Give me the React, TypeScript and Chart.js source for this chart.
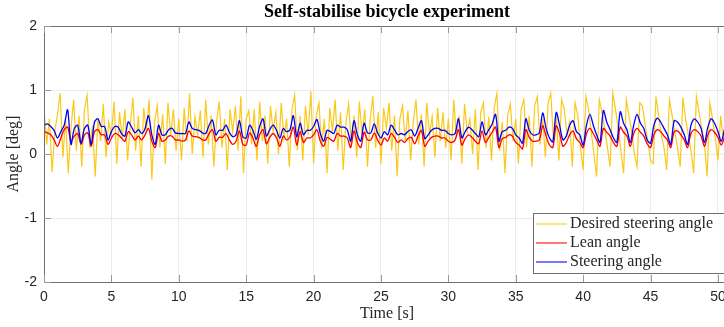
import React, { useEffect, useRef } from 'react';
import { Chart, registerables } from 'chart.js';

Chart.register(...registerables);

// ---------- data ----------
const chartTitle = 'Self-stabilise bicycle experiment';
const xAxisLabel = 'Time [s]';
const yAxisLabel = 'Angle [deg]';
const seriesLabels = ['Desired steering angle', 'Lean angle', 'Steering angle'];
const xTickValues = [0, 5, 10, 15, 20, 25, 30, 35, 40, 45, 50];
const yTickValues = [-2, -1, 0, 1, 2];

// sample period (s) of each recorded signal
const desiredDt = 0.2;
const angleDt = 0.25;

// Desired steering angle [deg], one value every 0.2 s
const desiredSteering = [
  0.72, 0.15, 0.55, -0.28, 0.35, 0.62, 0.95, -0.05, 0.55, -0.30,
  0.40, 0.85, 0.05, 0.60, -0.20, 0.70, 0.92, 0.10, 0.45, -0.35,
  0.55, 0.20, 0.78, -0.05, 0.50, 0.30, 0.82, -0.15, 0.65, 0.25,
  0.70, -0.10, 0.45, 0.88, 0.05, 0.60, -0.20, 0.72, 0.35, 0.85,
  -0.40, 0.50, 0.75, 0.10, 0.62, -0.15, 0.80, 0.30, 0.70, 0.05,
  0.55, -0.10, 0.72, 0.20, 0.95, 0.00, 0.58, 0.30, 0.68, -0.05,
  0.85, 0.15, 0.60, -0.20, 0.50, 0.82, 0.10, 0.55, -0.25, 0.70,
  0.35, 0.75, 0.05, 0.90, -0.30, 0.55, 0.68, 0.15, 0.70, -0.10,
  0.82, 0.20, 0.60, -0.15, 0.75, 0.35, 0.65, 0.00, 0.80, 0.25,
  0.55, -0.20, 0.70, 0.92, 0.05, 0.60, -0.10, 0.75, 0.30, 0.98,
  -0.15, 0.60, 0.80, 0.10, 0.55, -0.30, 0.72, 0.35, 0.85, 0.05,
  0.65, -0.25, 0.50, 0.78, 0.15, 0.60, -0.05, 0.82, 0.30, 0.70,
  -0.20, 0.55, 0.90, 0.10, 0.65, -0.15, 0.72, 0.40, 0.80, 0.05,
  0.60, -0.35, 0.55, 0.75, 0.20, 0.68, -0.10, 0.50, 0.85, 0.15,
  0.62, -0.20, 0.80, 0.30, 0.58, -0.05, 0.72, 0.20, 0.65, 0.10,
  0.55, -0.10, 0.85, 0.25, 0.60, -0.15, 0.78, 0.35, 0.55, 0.00,
  0.70, -0.25, 0.65, 0.80, 0.10, 0.58, -0.10, 0.72, 0.95, 0.05,
  0.50, -0.30, 0.60, 0.78, 0.20, 0.55, -0.15, 0.70, 0.85, 0.10,
  0.60, -0.20, 0.75, 0.90, 0.15, 0.55, -0.05, 0.80, 0.95, 0.20,
  0.60, -0.10, 0.85, 0.70, 0.30, 0.50, -0.20, 0.80, 0.60, 0.10,
  -0.25, 0.90, 0.70, 0.35, 0.00, -0.35, 0.85, 0.65, 0.40, 0.10,
  -0.20, 0.95, 0.70, 0.40, 0.05, -0.30, 0.85, 0.60, 0.35, 0.00,
  -0.20, 0.80, 0.75, 0.45, 0.20, -0.10, -0.15, 0.90, 0.60, 0.30,
  0.10, -0.25, 0.85, 0.60, 0.35, 0.10, -0.20, 0.88, 0.55, 0.30,
  0.05, -0.30, 0.90, 0.65, 0.40, 0.15, -0.35, 0.80, 0.55, 0.25,
  -0.10, 0.60, 0.20,
];

// Lean angle [deg], one value every 0.25 s
const leanAngle = [
  0.35, 0.33, 0.30, 0.22, 0.12, 0.25, 0.38, 0.42, 0.20, 0.28,
  0.32, 0.15, 0.30, 0.33, 0.12, 0.35, 0.38, 0.30, 0.30, 0.15,
  0.25, 0.32, 0.30, 0.25, 0.20, 0.35, 0.30, 0.22, 0.28, 0.22,
  0.30, 0.40, 0.20, 0.10, 0.32, 0.20, 0.22, 0.28, 0.28, 0.22,
  0.22, 0.20, 0.22, 0.36, 0.28, 0.27, 0.26, 0.22, 0.22, 0.32,
  0.38, 0.20, 0.26, 0.26, 0.32, 0.22, 0.15, 0.20, 0.36, 0.15,
  0.14, 0.33, 0.25, 0.12, 0.30, 0.38, 0.16, 0.26, 0.32, 0.25,
  0.12, 0.28, 0.22, 0.27, 0.42, 0.14, 0.35, 0.18, 0.25, 0.25,
  0.30, 0.38, 0.20, 0.12, 0.26, 0.23, 0.20, 0.32, 0.28, 0.28,
  0.25, 0.10, 0.36, 0.18, 0.10, 0.34, 0.22, 0.22, 0.33, 0.22,
  0.14, 0.25, 0.20, 0.32, 0.26, 0.18, 0.22, 0.18, 0.24, 0.26,
  0.16, 0.28, 0.37, 0.12, 0.20, 0.26, 0.28, 0.28, 0.25, 0.25,
  0.20, 0.18, 0.22, 0.38, 0.14, 0.24, 0.30, 0.26, 0.20, 0.16,
  0.36, 0.18, 0.26, 0.34, 0.42, 0.10, 0.24, 0.26, 0.30, 0.28,
  0.18, 0.14, 0.08, 0.38, 0.26, 0.20, 0.20, 0.22, 0.44, 0.28,
  0.14, 0.10, 0.44, 0.32, 0.12, 0.18, 0.30, 0.36, 0.24, 0.18,
  0.10, 0.32, 0.40, 0.32, 0.22, 0.12, 0.40, 0.34, 0.28, 0.18,
  0.12, 0.42, 0.34, 0.28, 0.12, 0.32, 0.40, 0.34, 0.28, 0.16,
  0.10, 0.30, 0.38, 0.35, 0.28, 0.22, 0.10, 0.35, 0.36, 0.30,
  0.22, 0.10, 0.32, 0.38, 0.35, 0.28, 0.12, 0.30, 0.38, 0.34,
  0.26, 0.14, 0.28,
];

// Steering angle [deg], one value every 0.25 s
const steeringAngle = [
  0.45, 0.47, 0.43, 0.37, 0.25, 0.35, 0.45, 0.69, 0.15, 0.40,
  0.45, 0.17, 0.40, 0.45, 0.15, 0.50, 0.55, 0.43, 0.43, 0.22,
  0.35, 0.43, 0.42, 0.32, 0.28, 0.50, 0.42, 0.33, 0.38, 0.32,
  0.40, 0.60, 0.30, 0.15, 0.45, 0.30, 0.30, 0.38, 0.40, 0.33,
  0.32, 0.32, 0.32, 0.50, 0.40, 0.38, 0.37, 0.33, 0.32, 0.45,
  0.53, 0.30, 0.37, 0.37, 0.45, 0.34, 0.27, 0.30, 0.52, 0.27,
  0.25, 0.45, 0.37, 0.23, 0.43, 0.55, 0.28, 0.38, 0.45, 0.37,
  0.25, 0.40, 0.35, 0.38, 0.60, 0.27, 0.48, 0.30, 0.37, 0.37,
  0.43, 0.54, 0.32, 0.20, 0.37, 0.35, 0.32, 0.45, 0.42, 0.42,
  0.38, 0.20, 0.52, 0.30, 0.20, 0.48, 0.33, 0.33, 0.47, 0.33,
  0.25, 0.35, 0.30, 0.45, 0.38, 0.30, 0.32, 0.30, 0.35, 0.38,
  0.28, 0.40, 0.52, 0.24, 0.30, 0.37, 0.40, 0.40, 0.37, 0.37,
  0.32, 0.30, 0.32, 0.55, 0.25, 0.35, 0.42, 0.38, 0.32, 0.27,
  0.50, 0.30, 0.38, 0.47, 0.62, 0.20, 0.35, 0.37, 0.42, 0.40,
  0.30, 0.25, 0.17, 0.55, 0.37, 0.30, 0.30, 0.33, 0.64, 0.40,
  0.25, 0.19, 0.65, 0.45, 0.22, 0.28, 0.45, 0.52, 0.35, 0.30,
  0.14, 0.45, 0.62, 0.45, 0.30, 0.18, 0.68, 0.50, 0.38, 0.25,
  0.18, 0.66, 0.48, 0.38, 0.18, 0.45, 0.62, 0.48, 0.40, 0.22,
  0.17, 0.45, 0.56, 0.50, 0.40, 0.30, 0.15, 0.52, 0.50, 0.42,
  0.30, 0.15, 0.45, 0.55, 0.50, 0.40, 0.18, 0.42, 0.55, 0.48,
  0.35, 0.20, 0.40,
];

// ---------- styling ----------
const colors = {
  desired: 'rgba(250, 195, 0, 0.9)',
  lean: '#ff0000',
  steering: '#0000ff',
  grid: '#ebebeb',
  axis: '#6e6e6e',
  tick: '#9a9a9a',
  text: '#262626',
};
const serif = '"Liberation Serif", "Times New Roman", serif';
const sans = '"Liberation Sans", Arial, Helvetica, sans-serif';

function toPoints(values: number[], dt: number) {
  return values.map((v, i) => ({ x: Math.round(i * dt * 1000) / 1000, y: v }));
}

const decorPlugin = {
  id: 'decor',
  afterDraw(chart: any) {
    const { ctx, chartArea: a, scales } = chart;
    ctx.save();
    // axes box
    ctx.strokeStyle = colors.axis;
    ctx.lineWidth = 1;
    ctx.beginPath();
    ctx.moveTo(a.left + 0.5, a.top + 0.5);
    ctx.lineTo(a.left + 0.5, a.bottom + 0.5);
    ctx.lineTo(a.right, a.bottom + 0.5);
    ctx.moveTo(a.left + 0.5, a.top + 0.5);
    ctx.lineTo(a.right, a.top + 0.5);
    ctx.stroke();
    // inward ticks
    ctx.strokeStyle = colors.tick;
    ctx.beginPath();
    xTickValues.forEach((v) => {
      const px = Math.round(scales.x.getPixelForValue(v)) + 0.5;
      ctx.moveTo(px, a.bottom);
      ctx.lineTo(px, a.bottom - 7);
      ctx.moveTo(px, a.top);
      ctx.lineTo(px, a.top + 7);
    });
    yTickValues.forEach((v) => {
      const py = Math.round(scales.y.getPixelForValue(v)) + 0.5;
      ctx.moveTo(a.left, py);
      ctx.lineTo(a.left + 7, py);
    });
    ctx.stroke();

    // legend
    const lx = 533.5, ly = 213.5, lw = 200, lh = 60;
    ctx.fillStyle = '#ffffff';
    ctx.fillRect(lx, ly, lw, lh);
    ctx.strokeStyle = colors.axis;
    ctx.strokeRect(lx, ly, lw, lh);
    const legendColors = ['rgba(255, 205, 40, 0.75)', 'rgba(255, 0, 0, 0.7)', 'rgba(0, 0, 255, 0.7)'];
    ctx.font = `16px ${serif}`;
    ctx.textBaseline = 'middle';
    ctx.textAlign = 'left';
    seriesLabels.forEach((label, i) => {
      const y = 224 + i * 19;
      ctx.strokeStyle = legendColors[i];
      ctx.lineWidth = 1.5;
      ctx.beginPath();
      ctx.moveTo(536, y);
      ctx.lineTo(567, y);
      ctx.stroke();
      ctx.fillStyle = colors.text;
      ctx.fillText(label, 570, y);
    });

    // title
    ctx.fillStyle = '#000000';
    ctx.font = `bold 18px ${serif}`;
    ctx.textAlign = 'center';
    ctx.textBaseline = 'middle';
    ctx.fillText(chartTitle, (a.left + a.right) / 2 + 3, 12);
    // axis labels
    ctx.fillStyle = colors.text;
    ctx.font = `16px ${serif}`;
    ctx.fillText(xAxisLabel, (a.left + a.right) / 2 + 3, 314);
    ctx.save();
    ctx.translate(14, (a.top + a.bottom) / 2);
    ctx.rotate(-Math.PI / 2);
    ctx.fillText(yAxisLabel, 0, 0);
    ctx.restore();
    ctx.restore();
  },
};

export default function App() {
  const canvasRef = useRef<HTMLCanvasElement | null>(null);

  useEffect(() => {
    const canvas = canvasRef.current;
    if (!canvas) return;
    const chart = new Chart(canvas, {
      type: 'line',
      data: {
        datasets: [
          {
            label: seriesLabels[2],
            data: toPoints(steeringAngle, angleDt),
            borderColor: colors.steering,
            borderWidth: 1.3,
            tension: 0.3,
            order: 1,
          },
          {
            label: seriesLabels[1],
            data: toPoints(leanAngle, angleDt),
            borderColor: colors.lean,
            borderWidth: 1.3,
            tension: 0.3,
            order: 2,
          },
          {
            label: seriesLabels[0],
            data: toPoints(desiredSteering, desiredDt),
            borderColor: colors.desired,
            borderWidth: 1.2,
            tension: 0,
            order: 3,
          },
        ],
      },
      options: {
        animation: false,
        responsive: false,
        maintainAspectRatio: false,
        layout: { padding: { left: 0, right: 0, top: 26, bottom: 0 } },
        elements: { point: { radius: 0 } },
        plugins: {
          legend: { display: false },
          title: { display: false },
          tooltip: { enabled: false },
        },
        scales: {
          x: {
            type: 'linear',
            min: 0,
            max: 50.45,
            afterBuildTicks: (s: any) => {
              s.ticks = xTickValues.map((v) => ({ value: v }));
            },
            afterFit: (s: any) => {
              s.height = 45;
              s.paddingLeft = 0;
              s.paddingRight = 0;
            },
            grid: { color: colors.grid, drawTicks: false },
            border: { display: false },
            ticks: {
              font: { family: sans, size: 14 },
              color: colors.text,
              padding: 7,
              maxRotation: 0,
              autoSkip: false,
            },
          },
          y: {
            type: 'linear',
            min: -2,
            max: 2,
            afterBuildTicks: (s: any) => {
              s.ticks = yTickValues.map((v) => ({ value: v }));
            },
            afterFit: (s: any) => {
              s.width = 44;
              s.paddingTop = 0;
              s.paddingBottom = 0;
            },
            grid: { color: colors.grid, drawTicks: false },
            border: { display: false },
            ticks: {
              font: { family: sans, size: 14 },
              color: colors.text,
              padding: 7,
            },
          },
        },
      },
      plugins: [decorPlugin],
    });
    return () => chart.destroy();
  }, []);

  return (
    <div style={{ position: 'fixed', left: 0, top: 0, width: 724, height: 327, background: '#fff' }}>
      <canvas ref={canvasRef} width={724} height={327} style={{ display: 'block' }} />
    </div>
  );
}
